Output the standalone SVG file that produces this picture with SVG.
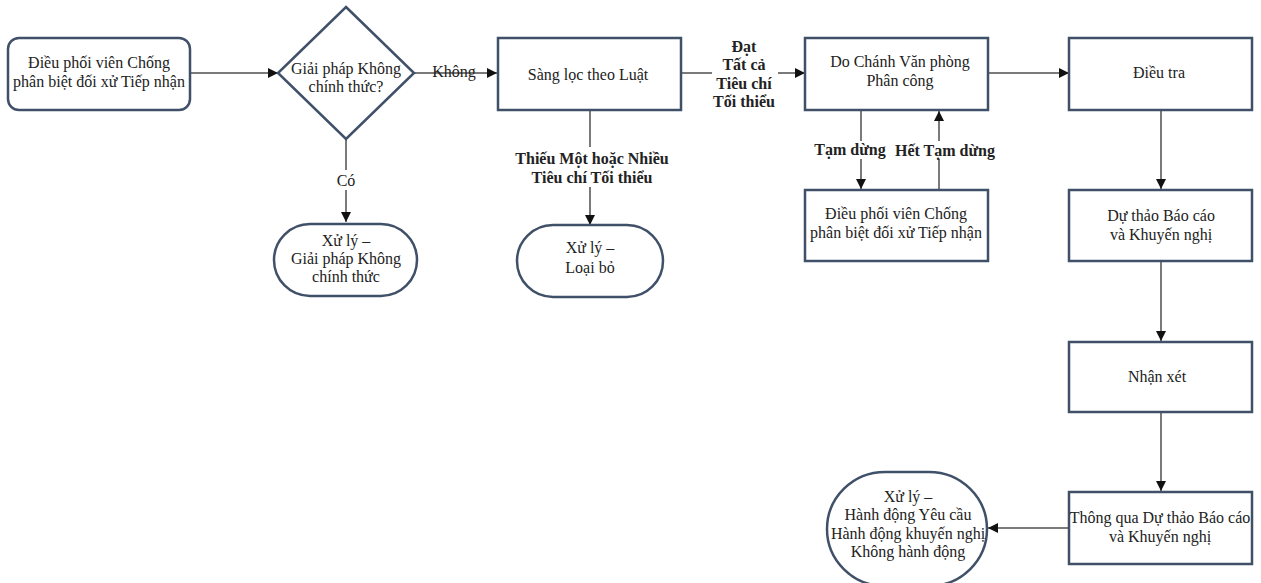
<svg xmlns="http://www.w3.org/2000/svg" width="1261" height="583" viewBox="0 0 1261 583">
<defs>
<marker id="arr" viewBox="0 0 10 10" refX="10" refY="5" markerWidth="5" markerHeight="5" orient="auto" markerUnits="strokeWidth">
<path d="M0,0 L10,5 L0,10 z" fill="#111"/>
</marker>
<style>
.n{fill:#fff;stroke:#3f5068;stroke-width:2.5}
.t{font-family:"Liberation Serif","Times New Roman",serif;font-size:16px;fill:#222;text-anchor:middle}
.b{font-family:"Liberation Serif","Times New Roman",serif;font-size:16px;font-weight:bold;fill:#222;text-anchor:middle}
.c{fill:none;stroke:#7a7a7a;stroke-width:2;marker-end:url(#arr)}
.bg{fill:#fff}
</style>
</defs>
<rect width="1261" height="583" fill="#fff"/>
<g id="connectors">
<line class="c" x1="190" y1="73" x2="278" y2="73"/>
<line class="c" x1="414" y1="73" x2="497" y2="73"/>
<line class="c" x1="346" y1="139" x2="346" y2="222"/>
<line class="c" x1="681" y1="73" x2="805" y2="73"/>
<line class="c" x1="590" y1="110" x2="590" y2="225"/>
<line class="c" x1="988" y1="73" x2="1069" y2="73"/>
<line class="c" x1="861" y1="110" x2="861" y2="189"/>
<line class="c" x1="939" y1="190" x2="939" y2="111"/>
<line class="c" x1="1161" y1="110" x2="1161" y2="189"/>
<line class="c" x1="1161" y1="261" x2="1161" y2="341"/>
<line class="c" x1="1161" y1="412" x2="1161" y2="491"/>
<line class="c" x1="1069" y1="528" x2="988" y2="528"/>
<rect class="bg" x="333" y="170" width="26" height="20"/>
<text class="t" x="346" y="186">Có</text>
<rect class="bg" x="431" y="62" width="46" height="10"/>
<text class="t" x="454" y="77">Không</text>
<rect class="bg" x="712" y="36" width="66" height="74"/>
<text class="b" x="744" y="52">Đạt</text>
<text class="b" x="744" y="70">Tất cả</text>
<text class="b" x="744" y="89">Tiêu chí</text>
<text class="b" x="744" y="107">Tối thiểu</text>
<rect class="bg" x="514" y="147" width="156" height="40"/>
<text class="b" x="592" y="164">Thiếu Một hoặc Nhiều</text>
<text class="b" x="592" y="183">Tiêu chí Tối thiểu</text>
<rect class="bg" x="812" y="141" width="78" height="18"/>
<text class="b" x="850" y="155">Tạm dừng</text>
<rect class="bg" x="892" y="141" width="106" height="18"/>
<text class="b" x="945" y="156">Hết Tạm dừng</text>
</g>
<g id="n1">
<rect class="n" x="8" y="38" width="182" height="72" rx="11"/>
<text class="t" x="99" y="68">Điều phối viên Chống</text>
<text class="t" x="99" y="87">phân biệt đối xử Tiếp nhận</text>
</g>
<g id="n2">
<polygon class="n" points="346,7 414,73 346,139 278,73"/>
<text class="t" x="346" y="74">Giải pháp Không</text>
<text class="t" x="346" y="92">chính thức?</text>
</g>
<g id="n3">
<rect class="n" x="274" y="224" width="143" height="72" rx="36"/>
<text class="t" x="346" y="246">Xử lý –</text>
<text class="t" x="346" y="264">Giải pháp Không</text>
<text class="t" x="346" y="282">chính thức</text>
</g>
<g id="n4">
<rect class="n" x="498" y="38" width="183" height="72"/>
<text class="t" x="588" y="80">Sàng lọc theo Luật</text>
</g>
<g id="n5">
<rect class="n" x="517" y="225" width="146" height="72" rx="36"/>
<text class="t" x="590" y="253">Xử lý –</text>
<text class="t" x="590" y="273">Loại bỏ</text>
</g>
<g id="n6">
<rect class="n" x="805" y="38" width="183" height="72"/>
<text class="t" x="900" y="67">Do Chánh Văn phòng</text>
<text class="t" x="900" y="86">Phân công</text>
</g>
<g id="n7">
<rect class="n" x="805" y="190" width="183" height="71"/>
<text class="t" x="896" y="219">Điều phối viên Chống</text>
<text class="t" x="896" y="238">phân biệt đối xử Tiếp nhận</text>
</g>
<g id="n8">
<rect class="n" x="1069" y="38" width="183" height="72"/>
<text class="t" x="1159" y="78">Điều tra</text>
</g>
<g id="n9">
<rect class="n" x="1069" y="190" width="183" height="71"/>
<text class="t" x="1161" y="221">Dự thảo Báo cáo</text>
<text class="t" x="1161" y="240">và Khuyến nghị</text>
</g>
<g id="n10">
<rect class="n" x="1069" y="342" width="183" height="70"/>
<text class="t" x="1157" y="382">Nhận xét</text>
</g>
<g id="n11">
<rect class="n" x="1069" y="492" width="183" height="72"/>
<text class="t" x="1160" y="523">Thông qua Dự thảo Báo cáo</text>
<text class="t" x="1160" y="542">và Khuyến nghị</text>
</g>
<g id="n12">
<rect class="n" x="827" y="472" width="160" height="114" rx="58"/>
<text class="t" x="908" y="502">Xử lý –</text>
<text class="t" x="908" y="520">Hành động Yêu cầu</text>
<text class="t" x="908" y="539">Hành động khuyến nghị</text>
<text class="t" x="908" y="557">Không hành động</text>
</g>
</svg>
